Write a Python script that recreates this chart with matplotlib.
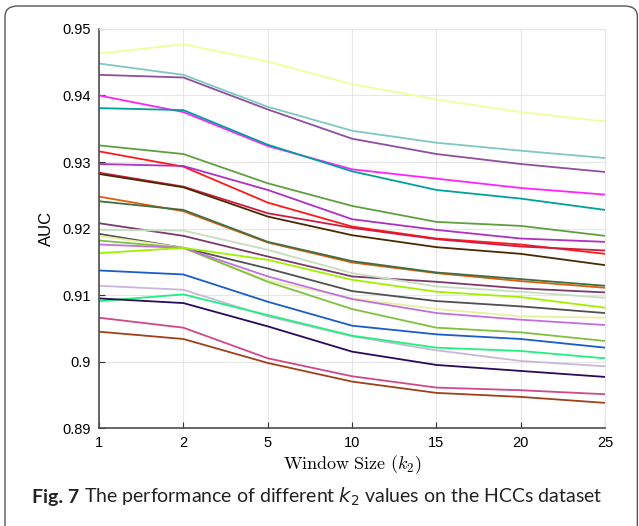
import matplotlib.pyplot as plt
from matplotlib.patches import FancyBboxPatch

plt.rcParams['mathtext.fontset'] = 'cm'

window_sizes = ['1', '2', '5', '10', '15', '20', '25']
y_ticks = [0.89, 0.9, 0.91, 0.92, 0.93, 0.94, 0.95]
y_ticklabels = ['0.89', '0.9', '0.91', '0.92', '0.93', '0.94', '0.95']

line_colors = [
    '#eeff99', '#7fc8c0', '#8e4f9c', '#ff22ff', '#00a09a',
    '#5f9f3f', '#ff1a1a', '#b030c0', '#d01a40', '#4a2a00',
    '#e05a10', '#3f6f3f', '#7a3a6a', '#c8dcc0', '#505050',
    '#e8f0a0', '#80c040', '#c070e0', '#a0f000', '#1a5cc8',
    '#c8b8d8', '#20f080', '#2a0a5a', '#d04888', '#a0401a',
]

auc_values = [
    [0.9463, 0.9477, 0.9451, 0.9417, 0.9394, 0.9375, 0.9361],
    [0.9448, 0.9431, 0.9383, 0.9347, 0.9329, 0.9317, 0.9306],
    [0.9431, 0.9427, 0.9379, 0.9335, 0.9312, 0.9297, 0.9285],
    [0.9400, 0.9375, 0.9324, 0.9289, 0.9275, 0.9261, 0.9251],
    [0.9381, 0.9378, 0.9326, 0.9286, 0.9258, 0.9245, 0.9228],
    [0.9325, 0.9312, 0.9268, 0.9234, 0.9210, 0.9204, 0.9189],
    [0.9316, 0.9293, 0.9239, 0.9203, 0.9185, 0.9176, 0.9162],
    [0.9297, 0.9294, 0.9258, 0.9214, 0.9198, 0.9185, 0.9180],
    [0.9284, 0.9263, 0.9223, 0.9201, 0.9184, 0.9173, 0.9167],
    [0.9282, 0.9262, 0.9218, 0.9190, 0.9172, 0.9162, 0.9145],
    [0.9248, 0.9226, 0.9179, 0.9149, 0.9133, 0.9121, 0.9111],
    [0.9241, 0.9228, 0.9180, 0.9151, 0.9134, 0.9124, 0.9114],
    [0.9208, 0.9189, 0.9158, 0.9128, 0.9120, 0.9110, 0.9104],
    [0.9198, 0.9197, 0.9168, 0.9133, 0.9113, 0.9105, 0.9096],
    [0.9192, 0.9171, 0.9140, 0.9106, 0.9091, 0.9083, 0.9073],
    [0.9189, 0.9171, 0.9122, 0.9095, 0.9079, 0.9068, 0.9066],
    [0.9182, 0.9171, 0.9120, 0.9079, 0.9051, 0.9044, 0.9031],
    [0.9176, 0.9171, 0.9128, 0.9094, 0.9073, 0.9063, 0.9055],
    [0.9163, 0.9171, 0.9153, 0.9123, 0.9105, 0.9097, 0.9081],
    [0.9137, 0.9131, 0.9090, 0.9054, 0.9041, 0.9034, 0.9021],
    [0.9114, 0.9108, 0.9068, 0.9038, 0.9017, 0.9001, 0.8993],
    [0.9091, 0.9101, 0.9070, 0.9039, 0.9021, 0.9016, 0.9005],
    [0.9095, 0.9088, 0.9053, 0.9015, 0.8995, 0.8986, 0.8977],
    [0.9066, 0.9051, 0.9005, 0.8978, 0.8961, 0.8957, 0.8951],
    [0.9045, 0.9034, 0.8998, 0.8970, 0.8953, 0.8947, 0.8938],
]

fig = plt.figure(figsize=(6.39, 5.26), dpi=100)
ax = fig.add_axes([0.155, 0.186, 0.792, 0.759])

x = range(len(window_sizes))
for color, vals in zip(line_colors, auc_values):
    ax.plot(x, vals, '-', color=color, lw=1.3)

ax.set_xlim(0, len(window_sizes) - 1)
ax.set_ylim(0.89, 0.95)
ax.set_xticks(list(x))
ax.set_xticklabels(window_sizes, fontsize=10.5, family='Liberation Sans')
ax.set_yticks(y_ticks)
ax.set_yticklabels(y_ticklabels, fontsize=10.5, family='Liberation Sans')
ax.tick_params(direction='in', length=4, color='#333333', pad=6)
ax.grid(True, color='#e6e6e6', lw=0.8)
ax.set_axisbelow(True)

for side in ['top', 'right']:
    ax.spines[side].set_color('#e6e6e6')
for side in ['left', 'bottom']:
    ax.spines[side].set_color('#4d4d4d')
    ax.spines[side].set_linewidth(1.2)

ax.set_ylabel('AUC', fontsize=12, family='Liberation Sans', labelpad=6)
ax.set_xlabel(r'$\mathrm{Window\ Size\ }(k_2)$', fontsize=13, labelpad=2)

# caption: bold "Fig. 7" followed by the rest of the sentence
cap_y = 1 - 497 / 526
fig_lbl = fig.text(32 / 639, cap_y, 'Fig. 7', fontsize=14, fontweight='bold',
                   family='Lato', va='center', color='#222222')
renderer = fig.canvas.get_renderer()
bb = fig_lbl.get_window_extent(renderer)
fig.text((bb.x1 + 5) / 639, cap_y,
         r'The performance of different $k_2$ values on the HCCs dataset',
         fontsize=14, family='Lato', va='center', math_fontfamily='dejavusans',
         color='#222222')

frame = FancyBboxPatch((5 / 639, -0.05), 633 / 639 - 0.001, 1.05 - 6 / 526,
                       boxstyle='round,pad=0,rounding_size=0.02',
                       transform=fig.transFigure, fill=False,
                       ec='#555555', lw=1.0, clip_on=False)
fig.patches.append(frame)

plt.savefig('out.png', dpi=100)
